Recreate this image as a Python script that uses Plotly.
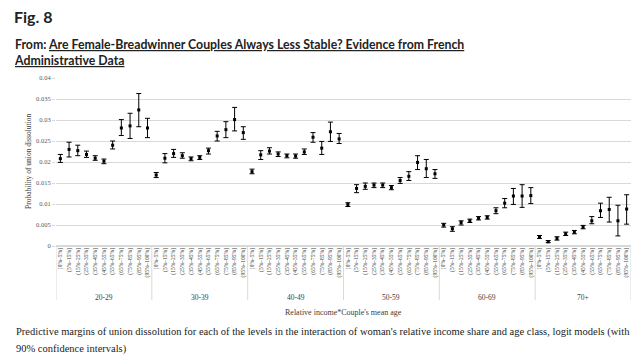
import plotly.graph_objects as go

age_groups = ["20-29", "30-39", "40-49", "50-59", "60-69", "70+"]
income_bins = ["[0%–5%]", "(5%–15%]", "(15%–25%]", "(25%–35%]", "(35%–45%]", "(45%–55%]",
               "(55%–65%]", "(65%–75%]", "(75%–85%]", "(85%–95%]", "(95%–100%]"]

# predictive margins (point estimate) per age group, in income_bins order
est = [
    0.0208, 0.0230, 0.0227, 0.0218, 0.0209, 0.0202, 0.0240, 0.0281, 0.0286, 0.0324, 0.0281,
    0.0169, 0.0209, 0.0220, 0.0215, 0.0208, 0.0211, 0.0227, 0.0262, 0.0277, 0.0301, 0.0270,
    0.0177, 0.0217, 0.0226, 0.0219, 0.0215, 0.0214, 0.0224, 0.0259, 0.0233, 0.0272, 0.0255,
    0.0099, 0.0137, 0.0142, 0.0145, 0.0145, 0.0139, 0.0156, 0.0166, 0.0199, 0.0184, 0.0172,
    0.0050, 0.0041, 0.0056, 0.0060, 0.0066, 0.0068, 0.0084, 0.0102, 0.0119, 0.0119, 0.0120,
    0.0022, 0.0010, 0.0018, 0.0029, 0.0033, 0.0045, 0.0060, 0.0084, 0.0087, 0.0060, 0.0088,
]
# upper bound of 90% CI
ci_hi = [
    0.0218, 0.0247, 0.0240, 0.0226, 0.0215, 0.0207, 0.0250, 0.0301, 0.0316, 0.0363, 0.0304,
    0.0175, 0.0220, 0.0230, 0.0222, 0.0212, 0.0215, 0.0233, 0.0273, 0.0296, 0.0330, 0.0284,
    0.0183, 0.0227, 0.0234, 0.0224, 0.0219, 0.0219, 0.0231, 0.0270, 0.0249, 0.0295, 0.0268,
    0.0103, 0.0146, 0.0150, 0.0150, 0.0150, 0.0144, 0.0163, 0.0177, 0.0215, 0.0206, 0.0182,
    0.0054, 0.0046, 0.0060, 0.0064, 0.0070, 0.0072, 0.0091, 0.0113, 0.0137, 0.0146, 0.0139,
    0.0025, 0.0013, 0.0022, 0.0033, 0.0037, 0.0049, 0.0070, 0.0102, 0.0116, 0.0097, 0.0122,
]
# lower bound of 90% CI
ci_lo = [
    0.0199, 0.0212, 0.0215, 0.0211, 0.0204, 0.0196, 0.0231, 0.0263, 0.0256, 0.0284, 0.0258,
    0.0163, 0.0198, 0.0211, 0.0209, 0.0203, 0.0206, 0.0219, 0.0250, 0.0258, 0.0274, 0.0254,
    0.0172, 0.0206, 0.0219, 0.0213, 0.0210, 0.0209, 0.0218, 0.0247, 0.0218, 0.0249, 0.0244,
    0.0094, 0.0127, 0.0135, 0.0139, 0.0139, 0.0134, 0.0149, 0.0156, 0.0182, 0.0163, 0.0161,
    0.0045, 0.0035, 0.0050, 0.0056, 0.0062, 0.0064, 0.0077, 0.0091, 0.0099, 0.0092, 0.0101,
    0.0018, 0.0008, 0.0014, 0.0025, 0.0029, 0.0041, 0.0053, 0.0068, 0.0057, 0.0024, 0.0052,
]
y_ticks = [0, 0.005, 0.01, 0.015, 0.02, 0.025, 0.03, 0.035, 0.04]
y_ticktext = ["0", "0.005", "0.01", "0.015", "0.02", "0.025", "0.03", "0.035", "0.04"]

nb = len(income_bins)
xs = list(range(len(est)))
ticktext = [income_bins[i % nb] for i in xs]
err_plus = [h - m for h, m in zip(ci_hi, est)]
err_minus = [m - l for m, l in zip(est, ci_lo)]

SERIF = "Liberation Serif"
GRID = "#d9d9d9"
TXT = "#404040"

fig = go.Figure()
fig.add_trace(go.Scatter(
    x=xs, y=est, mode="markers",
    marker=dict(symbol="square", size=3, color="black"),
    error_y=dict(type="data", symmetric=False, array=err_plus, arrayminus=err_minus,
                 color="black", thickness=1, width=2.5),
    showlegend=False, hoverinfo="skip",
))

W, H = 640, 357
L, R, T, B = 56, 9, 78, 111
pw, ph = W - L - R, H - T - B

def px_to_paper_y(py):
    return (H - B - py) / ph

def px_to_paper_x(px):
    return (px - L) / pw

shapes = []
for g in range(len(age_groups) + 1):
    xb = g * nb - 0.5
    shapes.append(dict(type="line", xref="x", yref="paper", x0=xb, x1=xb,
                       y0=0, y1=px_to_paper_y(300), line=dict(color=GRID, width=1)))

annotations = []
for g, name in enumerate(age_groups):
    annotations.append(dict(x=g * nb + (nb - 1) / 2, y=px_to_paper_y(297), xref="x", yref="paper",
                            xanchor="center", yanchor="middle",
                            text=name, showarrow=False, font=dict(family=SERIF, size=7.5, color=TXT)))
annotations.append(dict(x=0.5, y=px_to_paper_y(312), xref="paper", yref="paper",
                        xanchor="center", yanchor="middle",
                        text="Relative income*Couple's mean age", showarrow=False,
                        font=dict(family=SERIF, size=8, color=TXT)))
annotations.append(dict(x=px_to_paper_x(28), y=px_to_paper_y(162), xref="paper", yref="paper",
                        xanchor="center", yanchor="middle",
                        text="Probability of union dissolution", textangle=-90, showarrow=False,
                        font=dict(family=SERIF, size=7.5, color=TXT)))
annotations.append(dict(x=px_to_paper_x(12), y=px_to_paper_y(17), xref="paper", yref="paper",
                        xanchor="left", yanchor="middle", text="<b>Fig. 8</b>", showarrow=False,
                        font=dict(family="Lato", size=16, color="#222222")))
annotations.append(dict(x=px_to_paper_x(12), y=px_to_paper_y(52), xref="paper", yref="paper",
                        xanchor="left", yanchor="middle", align="left", showarrow=False,
                        text="<b>From: <span style='text-decoration:underline'>Are Female-Breadwinner Couples Always Less Stable? Evidence from French</span><br>"
                             "<span style='text-decoration:underline'>Administrative Data</span></b>",
                        font=dict(family="Lato", size=12.3, color="#222222")))
annotations.append(dict(x=px_to_paper_x(14), y=px_to_paper_y(332), xref="paper", yref="paper",
                        xanchor="left", yanchor="middle", align="left", showarrow=False,
                        text="Predictive margins of union dissolution for each of the levels in the interaction of woman's relative income share and age class, logit models (with",
                        font=dict(family=SERIF, size=10.5, color="#222222")))
annotations.append(dict(x=px_to_paper_x(14), y=px_to_paper_y(349), xref="paper", yref="paper",
                        xanchor="left", yanchor="middle", align="left", showarrow=False,
                        text="90% confidence intervals)",
                        font=dict(family=SERIF, size=10.5, color="#222222")))

fig.update_layout(
    width=W, height=H, margin=dict(l=L, r=R, t=T, b=B),
    paper_bgcolor="white", plot_bgcolor="white",
    shapes=shapes, annotations=annotations,
    xaxis=dict(range=[-0.5, len(est) - 0.5], tickmode="array", tickvals=xs, ticktext=ticktext,
               tickangle=-90, tickfont=dict(family=SERIF, size=5.5, color=TXT),
               showgrid=False, zeroline=False, showline=False, ticks=""),
    yaxis=dict(range=[0, 0.04], tickmode="array", tickvals=y_ticks, ticktext=y_ticktext,
               tickfont=dict(family=SERIF, size=6.5, color="#595959"),
               showgrid=True, gridcolor=GRID, gridwidth=1, zeroline=True, zerolinecolor=GRID,
               showline=False, ticks="outside", ticklen=3, tickcolor=GRID),
)

fig.write_html("out.html", config={"displayModeBar": False},
               post_script="document.body.style.margin='0';document.body.style.overflow='hidden';")
